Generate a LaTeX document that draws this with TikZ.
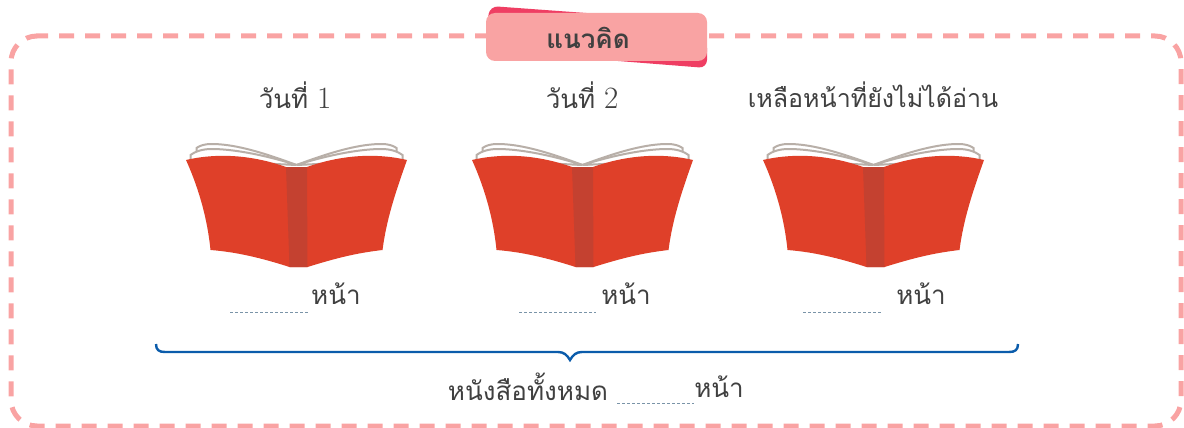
\documentclass[tikz,border=0pt]{standalone}
\usepackage{fontspec}
\newfontfamily\thaifont[Script=Thai]{Loma}
\newfontfamily\digitfont{Latin Modern Roman}
\definecolor{framepink}{HTML}{F9A3A3}
\definecolor{darkpink}{HTML}{EF3E63}
\definecolor{bookred}{HTML}{DF4029}
\definecolor{spinered}{HTML}{C44130}
\definecolor{pagegray}{HTML}{B8AFA8}
\definecolor{blankblue}{HTML}{7A94A8}
\definecolor{braceblue}{HTML}{0B5CAB}
\definecolor{textgray}{HTML}{404040}
\newcommand{\daydigit}[1]{{\digitfont\fontsize{31}{26}\selectfont #1}}
\tikzset{
  label text/.style={font=\thaifont\fontsize{26}{26}\selectfont,text=textgray,inner sep=0pt},
  blank line/.style={blankblue,line width=0.9pt,dash pattern=on 3pt off 2pt},
  book/.pic={
    \draw[pagegray,line width=2pt,fill=white] (0,165) .. controls (-40,150) and (-65,144) .. (-85,144) .. controls (-93,144) and (-97,146) .. (-100,148) -- (-100,154) -- (0,165);
    \draw[pagegray,line width=2pt,fill=white] (0,165) .. controls (-35,154) and (-65,149) .. (-85,149) .. controls (-95,149) and (-102,152) .. (-106,155) -- (-106,160) -- (0,165);
    \draw[pagegray,line width=2pt,fill=white] (0,165) .. controls (40,150) and (65,144) .. (85,144) .. controls (93,144) and (97,146) .. (100,148) -- (100,154) -- (0,165);
    \draw[pagegray,line width=2pt,fill=white] (0,165) .. controls (35,154) and (65,149) .. (85,149) .. controls (95,149) and (102,152) .. (106,155) -- (106,160) -- (0,165);
    \fill[bookred] (-110.5,160) .. controls (-85,154) and (-50,153) .. (-10.5,167)
      -- (10.5,167) .. controls (50,153) and (85,154) .. (110.5,160)
      .. controls (98,195) and (90,220) .. (86,250)
      .. controls (60,253) and (40,258) .. (11,267)
      -- (-7,267) .. controls (-35,258) and (-60,252) .. (-86,250)
      .. controls (-89,220) and (-97,190) .. (-110.5,160) -- cycle;
    \fill[spinered] (-10.5,167) -- (10.5,167) -- (11,267) -- (-7,267) -- cycle;
  }
}
\begin{document}
\begin{tikzpicture}[x=1pt,y=-1pt]
  \useasboundingbox (0,0) rectangle (1184,428);
  % frame
  \draw[framepink,line width=5pt,dash pattern=on 15pt off 11pt,dash phase=3pt,rounded corners=26pt] (36,36) -- (1181,36) -- (1181,426) -- (11,426) -- (11,36) -- (36,36);
  % title
  \fill[darkpink,rounded corners=8pt] (486,30) -- (490,6) -- (600,14) -- (707,40) -- (707,68) -- (580,58) -- (500,50) -- cycle;
  \node[fill=framepink,rounded corners=9pt,minimum width=221pt,minimum height=48pt,inner sep=0pt] (titlebox) at (596.5,37) {};
  \node[font=\thaifont\bfseries\fontsize{26}{26}\selectfont,text=textgray,inner sep=0pt] (titletext) at (588,38) {แนวคิด};
  % books
  \pic at (296.5,0) {book};
  \pic at (582.5,0) {book};
  \pic at (873.5,0) {book};
  \node[label text] (dayone) at (295,95) {วันที่ \daydigit{1}};
  \node[label text] (daytwo) at (582,95) {วันที่ \daydigit{2}};
  \node[label text,font=\thaifont\fontsize{25}{25}\selectfont] (remain) at (873,95) {เหลือหน้าที่ยังไม่ได้อ่าน};
  % blanks
  \draw[blank line] (230,312) -- (308,312);
  \node[label text] (pageone) at (336,294) {หน้า};
  \draw[blank line] (519,312) -- (596,312);
  \node[label text] (pagetwo) at (626,294) {หน้า};
  \draw[blank line] (803,312) -- (881,312);
  \node[label text] (pagethree) at (921,294) {หน้า};
  % brace
  \draw[braceblue,line width=2.4pt] (156,344) .. controls (156,350) and (159,352) .. (165,352) -- (558,352) .. controls (564,352) and (567,355) .. (570,360) .. controls (573,355) and (576,352) .. (582,352) -- (1009,352) .. controls (1015,352) and (1018,350) .. (1018,344);
  % total
  \node[label text] (total) at (528,387) {หนังสือทั้งหมด};
  \draw[blank line] (617,403) -- (694,403);
  \node[label text] (pagetotal) at (719,387) {หน้า};
\end{tikzpicture}
\end{document}
